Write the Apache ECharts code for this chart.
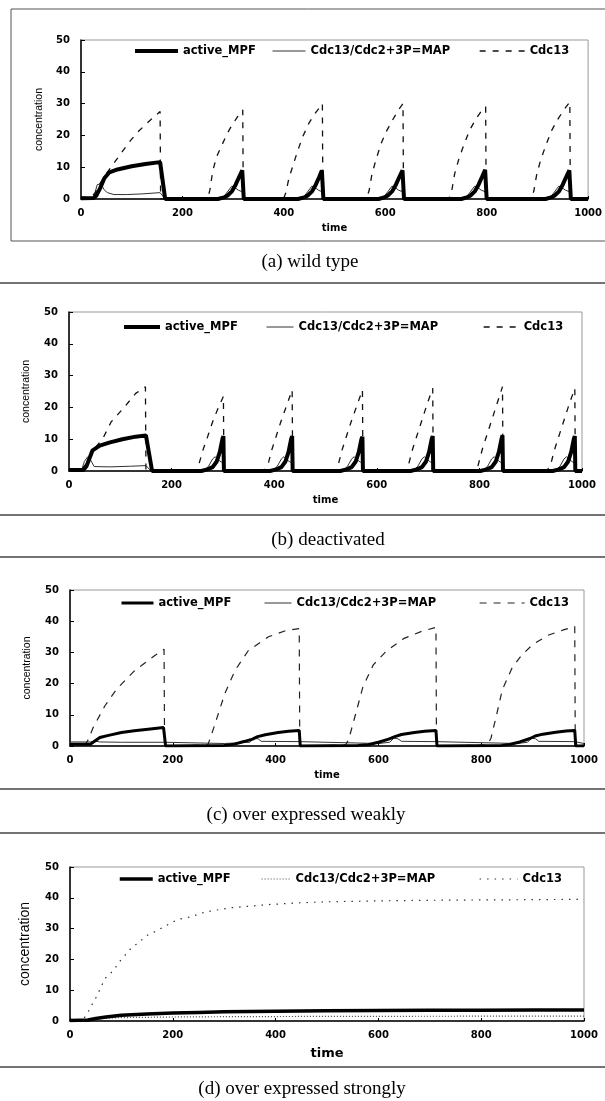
<!DOCTYPE html>
<html>
<head>
<meta charset="utf-8">
<script src="https://cdn.jsdelivr.net/npm/echarts@6/dist/echarts.min.js"></script>
<style>html,body{margin:0;padding:0;background:#fff;}#c{width:605px;height:1101px;}</style>
</head>
<body>
<div id="c"></div>
<script>
// ---------- DATA (time, concentration) ----------
const seriesNames = ['active_MPF', 'Cdc13/Cdc2+3P=MAP', 'Cdc13'];
const captions = ['(a) wild type', '(b) deactivated', '(c) over expressed weakly', '(d) over expressed strongly'];
const xTicks = [0, 200, 400, 600, 800, 1000];
const yTicks = [0, 10, 20, 30, 40, 50];

// (a) wild type
const aMPF = [[0,0.2],[25,0.3],[30,1],[38,3.5],[46,6.5],[56,8.4],[72,9.3],[100,10.3],[127,11],[156,11.6],[157,11.6],[166,0],
 [270,0],[282,0.5],[290,1.2],[298,2.5],[305,4.5],[312,7],[318,9],[319,9],[321,0],
 [428,0],[440,0.5],[448,1.2],[456,2.5],[463,4.5],[470,7],[475,9],[476,9],[478,0],
 [587,0],[598,0.5],[606,1.2],[614,2.5],[621,4.5],[628,7],[634,9],[635,9],[637,0],
 [750,0],[761,0.5],[769,1.2],[777,2.5],[784,4.5],[791,7],[797,9.2],[798,9.2],[800,0],
 [916,0],[927,0.5],[935,1.2],[943,2.5],[950,4.5],[957,7],[963,9],[964,9],[966,0],[1000,0]];
const aMAP = [[0,0.3],[25,0.5],[32,4.5],[40,4.8],[45,3],[52,2],[65,1.4],[90,1.4],[120,1.6],[156,2],[157,2],[166,0],
 [275,0],[282,0.8],[290,2.5],[297,4],[302,3.8],[310,2.8],[318,2.3],[319,2.3],[321,0],
 [433,0],[440,0.8],[448,2.5],[455,4],[460,3.8],[468,2.8],[475,2.3],[476,2.3],[478,0],
 [592,0],[598,0.8],[606,2.5],[613,4],[618,3.8],[626,2.8],[634,2.3],[635,2.3],[637,0],
 [755,0],[761,0.8],[769,2.5],[776,4],[781,3.8],[789,2.8],[797,2.3],[798,2.3],[800,0],
 [921,0],[927,0.8],[935,2.5],[942,4],[947,3.8],[955,2.8],[963,2.3],[964,2.3],[966,0],[1000,0]];
const aCdc13 = [[0,0.5],[20,0.5],[28,2],[38,5],[50,8],[66,11.5],[80,14.6],[97,18.3],[114,21.4],[138,25],[156,27.5],[157,0],
 [250,0.3],[254,2.7],[260,9],[268,13.5],[278,17],[288,20.5],[298,23.3],[308,25.7],[316,27.3],[319,28],[320,0],
 [400,0.3],[404,2],[410,6.5],[418,10.5],[427,15],[437,19.5],[450,24],[462,27],[472,29],[476,30],[477,0],
 [563,0.3],[568,2.5],[574,8],[582,12.5],[592,17.5],[603,21.5],[615,25],[626,28],[635,30],[636,0],
 [726,0.3],[731,2.5],[737,8],[745,12.5],[755,17],[766,21.5],[778,25],[789,27.5],[798,29],[799,0],
 [888,0.3],[893,2.5],[899,8],[907,12.5],[917,17],[928,21.5],[940,25],[952,28],[964,30.5],[965,0],[1000,0.2]];

// (b) deactivated
const bMPF = [[0,0.3],[28,0.3],[34,1.5],[40,4],[46,6.5],[60,8],[80,9],[104,10],[130,10.8],[150,11.2],[151,11.2],[162,0],
 [258,0],[270,0.5],[280,1.2],[288,3],[294,6],[299,10],[301,11],[302,0],
 [392,0],[404,0.5],[414,1.2],[422,3],[428,6],[433,10],[435,11],[436,0],
 [529,0],[541,0.5],[551,1.2],[559,3],[565,6],[570,10],[572,10.8],[573,0],
 [666,0],[678,0.5],[688,1.2],[696,3],[702,6],[707,10],[709,11],[710,0],
 [802,0],[814,0.5],[824,1.2],[832,3],[838,6],[843,10],[845,11.2],[846,0],
 [943,0],[955,0.5],[965,1.2],[973,3],[979,6],[984,10],[986,11],[987,0],[1000,0]];
const bMAP = [[0,0.5],[25,0.5],[30,3],[36,4.4],[42,3.5],[49,1.4],[80,1.3],[120,1.5],[150,1.7],[151,1.7],[160,0],
 [262,0],[272,1.5],[280,3.8],[285,4.5],[291,3.5],[297,2.8],[301,2.8],[302,0],
 [396,0],[406,1.5],[414,3.8],[419,4.5],[425,3.5],[431,2.8],[435,2.8],[436,0],
 [533,0],[543,1.5],[551,3.8],[556,4.5],[562,3.5],[568,2.8],[572,2.8],[573,0],
 [670,0],[680,1.5],[688,3.8],[693,4.5],[699,3.5],[705,2.8],[709,2.8],[710,0],
 [806,0],[816,1.5],[824,3.8],[829,4.5],[835,3.5],[841,2.8],[845,2.8],[846,0],
 [947,0],[957,1.5],[965,3.8],[970,4.5],[976,3.5],[982,2.8],[986,2.8],[987,0],[1000,0]];
const bCdc13 = [[0,0.5],[25,0.5],[32,2],[40,4.5],[52,7.5],[66,10.2],[82,15.4],[108,20.1],[130,24.4],[149,26.5],[150,0],
 [246,0.3],[252,1.5],[262,7],[270,10.7],[280,15.5],[290,19.5],[301,23.5],[302,0],
 [381,0.3],[387,1.5],[396,7],[404,11],[413,15.5],[424,20.5],[435,25.5],[436,0],
 [518,0.3],[524,1.5],[533,7],[541,11],[550,15.5],[561,20.5],[572,25.5],[573,0],
 [655,0.3],[661,1.5],[670,7],[678,11],[687,15.5],[698,21],[709,26],[710,0],
 [791,0.3],[797,1.5],[806,7],[814,11],[823,15.5],[834,21],[845,26.5],[846,0],
 [932,0.3],[938,1.5],[947,7],[955,11],[964,15.5],[975,21],[986,26],[987,0],[1000,0.3]];

// (c) over expressed weakly
const cMPF = [[0,0.6],[40,0.6],[45,1.2],[58,2.7],[75,3.4],[100,4.3],[125,4.9],[152,5.4],[182,5.9],[184,5.9],[186,0],
 [300,0.2],[320,0.6],[340,1.5],[355,2.2],[365,3],[380,3.6],[405,4.3],[425,4.7],[446,5],[447,5],[448,0],
 [560,0.2],[580,0.4],[600,1.2],[620,2.2],[632,3],[645,3.7],[670,4.3],[690,4.7],[712,5],[713,5],[714,0],
 [840,0.2],[855,0.5],[875,1.3],[895,2.4],[905,3.2],[920,3.8],[945,4.4],[965,4.8],[982,5],[983,5],[984,0],[1000,0]];
const cMAP = [[0,1.3],[40,1.3],[48,1.6],[58,1.3],[100,1.2],[184,1.2],[186,0.8],[300,0.8],[350,1.2],[358,2.5],[366,2.3],[372,1.5],
 [446,1.4],[448,0.8],[600,0.8],[622,1.2],[630,2.5],[638,2.3],[645,1.5],[712,1.4],[714,0.8],
 [870,0.8],[890,1.2],[898,2.5],[906,2.3],[912,1.5],[982,1.4],[984,0.8],[1000,0.8]];
const cCdc13 = [[0,0.5],[30,0.5],[36,2.2],[45,5.9],[68,12.9],[91,18.3],[126,24.2],[165,29],[183,31],[184,0],
 [268,0.3],[274,3],[282,7],[301,16.7],[321,24.2],[347,30.6],[386,35],[420,37],[446,37.6],[447,0],
 [536,0.3],[542,2],[552,8],[570,19],[590,26],[616,30.5],[650,34.5],[685,36.8],[712,38],[713,0],
 [812,0.3],[819,2.5],[830,10],[841,18],[860,25],[878,29],[900,32.5],[930,35.5],[960,37.2],[982,38.3],[983,0],[1000,0.3]];

// (d) over expressed strongly
const dMPF = [[0,0.2],[35,0.3],[50,0.8],[70,1.3],[100,1.9],[150,2.3],[200,2.6],[250,2.8],[300,3.0],[400,3.2],[500,3.3],
 [600,3.4],[700,3.45],[800,3.5],[900,3.55],[1000,3.6]];
const dMAP = [[0,0.2],[35,0.3],[60,0.8],[100,1.1],[200,1.3],[300,1.4],[500,1.5],[1000,1.6]];
const dCdc13 = [[0,0.3],[25,0.5],[32,1.9],[43,5.4],[52,8],[68,13.8],[84,16.3],[97,19.4],[117,23.3],[152,28],[169,29.3],
 [198,32],[211,33],[237,33.9],[253,34.9],[276,35.8],[315,36.8],[337,37.1],[386,37.8],[450,38.4],[500,38.7],
 [600,39],[700,39.2],[800,39.3],[900,39.4],[1000,39.5]];

const panelData = [[aMPF, aMAP, aCdc13], [bMPF, bMAP, bCdc13], [cMPF, cMAP, cCdc13], [dMPF, dMAP, dCdc13]];

// ---------- LAYOUT ----------
const grids = [
  {left: 81, top: 40, width: 508, height: 159},
  {left: 69, top: 312, width: 513, height: 159},
  {left: 70, top: 590, width: 514, height: 156},
  {left: 70, top: 867, width: 514, height: 154}
];
const mpfWidth = [4, 4, 3, 3.5];
const legendPos = [
  {top: 45, x: [133, 272, 479], w: [43, 33, 45]},
  {top: 321, x: [122, 266, 483], w: [36, 27, 35]},
  {top: 597, x: [120, 264, 479], w: [32, 27, 45]},
  {top: 873, x: [118, 261, 479], w: [33, 29, 38]}
];
const captionPos = [[310, 262], [328, 540], [306, 815], [302, 1089]];
const ruleY = [283, 515, 557, 789, 833, 1067];

const tickFont = {fontFamily: 'DejaVu Sans', fontWeight: 'bold', fontSize: 10, color: '#000'};
const hiddenSymbol = {color: 'rgba(0,0,0,0)', borderColor: 'rgba(0,0,0,0)', borderWidth: 0, opacity: 0};

function lineStyleFor(p, s) {
  if (s === 0) return {color: '#000', width: mpfWidth[p], type: 'solid'};
  if (s === 1) {
    if (p === 3) return {color: '#444', width: 1.2, type: [1, 2]};
    return {color: '#333', width: 1, type: 'solid'};
  }
  if (p === 3) return {color: '#333', width: 1.2, type: [1.5, 6]};
  if (p === 2) return {color: '#222', width: 1.2, type: [7, 7]};
  return {color: '#111', width: 1.3, type: [6, 7]};
}

const option = {
  backgroundColor: '#fff',
  animation: false,
  grid: grids.map(g => Object.assign({show: true, borderColor: '#999', borderWidth: 1, backgroundColor: 'transparent'}, g)),
  xAxis: grids.map((g, i) => ({
    gridIndex: i, type: 'value', min: xTicks[0], max: xTicks[xTicks.length - 1], interval: 200,
    name: 'time', nameLocation: 'middle', nameGap: i === 3 ? 26 : 24,
    nameTextStyle: {fontFamily: 'DejaVu Sans', fontWeight: 'bold', fontSize: i === 3 ? 13 : 10, color: '#000'},
    axisLine: {show: true, lineStyle: {color: '#000', width: 1.5}},
    axisTick: {show: true, inside: true, length: 3, lineStyle: {color: '#000'}},
    axisLabel: Object.assign({margin: 9, formatter: v => String(v)}, tickFont),
    splitLine: {show: false}
  })),
  yAxis: grids.map((g, i) => ({
    gridIndex: i, type: 'value', min: yTicks[0], max: yTicks[yTicks.length - 1], interval: 10,
    name: 'concentration', nameLocation: 'middle', nameGap: i === 3 ? 38 : (i === 0 ? 36 : 37),
    nameTextStyle: i === 3
      ? {fontFamily: 'Liberation Sans', fontSize: 14, color: '#000'}
      : {fontFamily: 'Liberation Sans Narrow, Liberation Sans', fontSize: 10.5, color: '#000'},
    axisLine: {show: true, lineStyle: {color: '#000', width: 1.5}},
    axisTick: {show: true, inside: true, length: 4, lineStyle: {color: '#000'}},
    axisLabel: Object.assign({margin: 11}, tickFont),
    splitLine: {show: false}
  })),
  legend: [],
  series: [],
  graphic: []
};

panelData.forEach((arrs, p) => {
  arrs.forEach((arr, s) => {
    option.series.push({
      type: 'line', name: seriesNames[s], xAxisIndex: p, yAxisIndex: p,
      data: arr, symbol: 'none', silent: true, z: s === 0 ? 3 : 2,
      itemStyle: {color: '#000'},
      lineStyle: lineStyleFor(p, s)
    });
    const lp = legendPos[p];
    option.legend.push({
      left: lp.x[s], top: lp.top, padding: 0, itemWidth: lp.w[s], itemHeight: 10,
      selectedMode: false, orient: 'horizontal',
      itemStyle: hiddenSymbol,
      textStyle: {fontFamily: 'DejaVu Sans', fontWeight: 'bold', fontSize: 11.5, color: '#000'},
      data: [{name: seriesNames[s], lineStyle: lineStyleFor(p, s), itemStyle: hiddenSymbol}]
    });
  });
});

// decorations: frame of panel (a), horizontal rules, captions
option.graphic.push({type: 'rect', shape: {x: 11, y: 9, width: 610, height: 232},
  style: {fill: 'none', stroke: '#555', lineWidth: 1}, silent: true});
ruleY.forEach(y => option.graphic.push({type: 'line', shape: {x1: 0, y1: y, x2: 605, y2: y},
  style: {stroke: '#444', lineWidth: 1.5}, silent: true}));
captions.forEach((t, i) => option.graphic.push({type: 'text', x: captionPos[i][0], y: captionPos[i][1],
  style: {text: t, fontFamily: 'Liberation Serif', fontSize: 19, fill: '#000', textAlign: 'center', textVerticalAlign: 'middle'},
  silent: true}));

const chart = echarts.init(document.getElementById('c'), null, {renderer: 'canvas'});
chart.setOption(option);
</script>
</body>
</html>
